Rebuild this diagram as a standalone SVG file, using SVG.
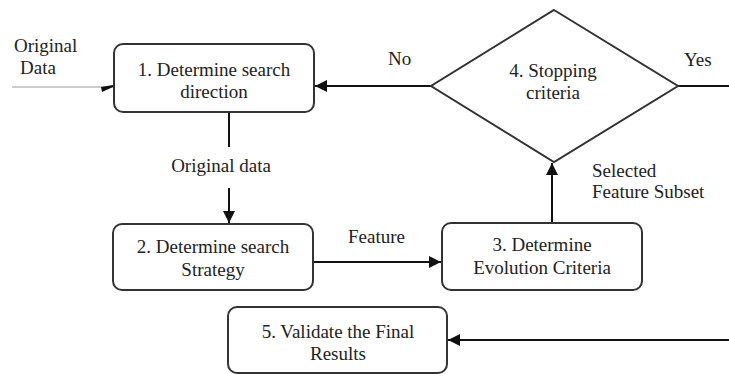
<svg xmlns="http://www.w3.org/2000/svg" width="729" height="374" viewBox="0 0 729 374">
<style>
.box{fill:#fff;stroke:#333;stroke-width:2}
.t{font-family:"Liberation Serif","Times New Roman",serif;font-size:19px;fill:#222;text-anchor:middle}
.l{font-family:"Liberation Serif","Times New Roman",serif;font-size:19px;fill:#222}
.c{stroke:#111;stroke-width:2;fill:none}
</style>
<defs>
<marker id="ah" viewBox="0 0 10 10" refX="10" refY="5" markerWidth="6" markerHeight="6" markerUnits="strokeWidth" orient="auto">
<path d="M0,0 L10,5 L0,10 z" fill="#111"/>
</marker>
<marker id="ahs" viewBox="0 0 12 10" refX="12" refY="2" markerWidth="12" markerHeight="10" markerUnits="userSpaceOnUse" orient="auto">
<path d="M0,2 L12,0 L12,2 L1,7 z" fill="#111"/>
</marker>
</defs>
<g id="connectors">
<line x1="12" y1="87" x2="113" y2="87" stroke="#999" stroke-width="1" marker-end="url(#ahs)"/>
<line class="c" x1="431" y1="86" x2="315" y2="86" marker-end="url(#ah)"/>
<line class="c" x1="678" y1="86" x2="729" y2="86"/>
<line class="c" x1="229" y1="113" x2="229" y2="147"/>
<line class="c" x1="229" y1="188" x2="229" y2="223" marker-end="url(#ah)"/>
<line class="c" x1="314" y1="262" x2="441" y2="262" marker-end="url(#ah)"/>
<line class="c" x1="552" y1="222" x2="552" y2="163" marker-end="url(#ah)"/>
<line class="c" x1="729" y1="340" x2="448" y2="340" marker-end="url(#ah)"/>
<text class="l" x="14" y="52">Original</text>
<text class="l" x="20" y="74">Data</text>
<text class="l" x="388" y="65">No</text>
<text class="l" x="684" y="66">Yes</text>
<text class="t" x="221" y="172">Original data</text>
<text class="l" x="348" y="243">Feature</text>
<text class="l" x="592" y="177">Selected</text>
<text class="l" x="592" y="198">Feature Subset</text>
</g>
<g id="n1">
<rect class="box" x="114" y="44" width="200" height="68" rx="9"/>
<text class="t" x="214" y="76">1. Determine search</text>
<text class="t" x="214" y="98">direction</text>
</g>
<g id="n4">
<polygon class="box" points="554,10 678,86 554,162 431,86" stroke-width="1.8"/>
<text class="t" x="553" y="77">4. Stopping</text>
<text class="t" x="553" y="99">criteria</text>
</g>
<g id="n2">
<rect class="box" x="113" y="224" width="200" height="66" rx="9"/>
<text class="t" x="213" y="253">2. Determine search</text>
<text class="t" x="213" y="276">Strategy</text>
</g>
<g id="n3">
<rect class="box" x="442" y="223" width="200" height="67" rx="9"/>
<text class="t" x="542" y="251">3. Determine</text>
<text class="t" x="542" y="274">Evolution Criteria</text>
</g>
<g id="n5">
<rect class="box" x="228" y="307" width="219" height="66" rx="9"/>
<text class="t" x="338" y="338">5. Validate the Final</text>
<text class="t" x="338" y="360">Results</text>
</g>
</svg>
